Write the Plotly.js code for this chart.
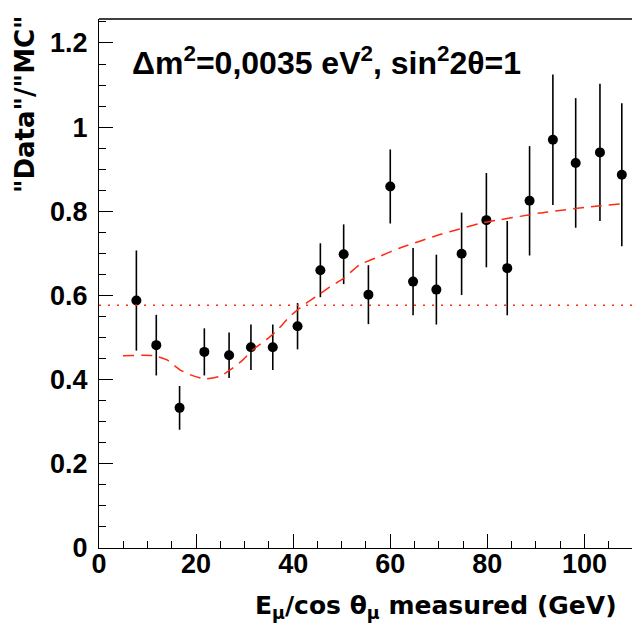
<!DOCTYPE html>
<html>
<head>
<meta charset="utf-8">
<script src="https://cdn.plot.ly/plotly-3.0.1.min.js"></script>
<style>html,body{margin:0;padding:0;background:#fff;}#chart{width:632px;height:627px;}</style>
</head>
<body>
<div id="chart"></div>
<script>
// Measured points: "Data"/"MC" ratio
const energy = [7.7, 11.8, 16.6, 21.7, 26.8, 31.3, 35.8, 40.9, 45.6, 50.4, 55.5, 60.0, 64.7, 69.5, 74.7, 79.8, 84.1, 88.7, 93.5, 98.2, 103.2, 107.7];
const ratio  = [0.588, 0.482, 0.333, 0.466, 0.458, 0.477, 0.477, 0.527, 0.660, 0.698, 0.602, 0.859, 0.633, 0.614, 0.699, 0.779, 0.665, 0.825, 0.970, 0.915, 0.940, 0.887];
const ratioErr = [0.119, 0.072, 0.052, 0.056, 0.054, 0.054, 0.054, 0.055, 0.064, 0.071, 0.070, 0.088, 0.080, 0.083, 0.098, 0.112, 0.112, 0.130, 0.155, 0.154, 0.163, 0.170];

// Oscillation expectation (dashed curve)
const oscX = [4.95, 11.1, 13.9, 16.6, 18.7, 21.8, 24.9, 27.6, 29.7, 31.7, 34.5, 36.5, 39.3, 42.0, 44.8, 47.5, 50.3, 53.7, 57.8, 62.0, 66.1, 70.2, 74.3, 78.4, 82.6, 86.7, 90.8, 94.9, 99.0, 103.2, 107.7];
const oscY = [0.457, 0.457, 0.4475, 0.424, 0.412, 0.402, 0.408, 0.428, 0.4475, 0.471, 0.495, 0.515, 0.550, 0.576, 0.598, 0.620, 0.640, 0.673, 0.693, 0.713, 0.729, 0.745, 0.758, 0.771, 0.780, 0.788, 0.796, 0.802, 0.808, 0.813, 0.818];

// Flat average (dotted line)
const flatX = [0, 110];
const flatY = [0.577, 0.577];

const xTickVals = [0, 20, 40, 60, 80, 100];
const yTickVals = [0, 0.2, 0.4, 0.6, 0.8, 1.0, 1.2];
const yTickText = ["0", "0.2", "0.4", "0.6", "0.8", "1", "1.2"];

const FONT = "Liberation Sans, Arial, Helvetica, sans-serif";
const WIDE = "DejaVu Sans, Liberation Sans, sans-serif";
const RED = "#ff2a10";

const traces = [
  {
    x: energy, y: ratio, type: "scatter", mode: "markers",
    marker: {color: "black", size: 10},
    error_y: {type: "data", array: ratioErr, visible: true, color: "black", thickness: 1.6, width: 0},
    hoverinfo: "x+y"
  },
  {
    x: flatX, y: flatY, type: "scatter", mode: "lines",
    line: {color: RED, width: 1.5, dash: "2px,7px"}
  },
  {
    x: oscX, y: oscY, type: "scatter", mode: "lines",
    line: {color: RED, width: 1.5, dash: "11px,7px", shape: "spline", smoothing: 0.6}
  }
];

const layout = {
  width: 632, height: 627,
  margin: {l: 99, r: 0, t: 19, b: 79},
  paper_bgcolor: "white", plot_bgcolor: "white",
  showlegend: false,
  font: {family: FONT, color: "black"},
  xaxis: {
    range: [0, 109.8], showgrid: false, zeroline: false,
    showline: true, linecolor: "black", linewidth: 1,
    ticks: "inside", ticklen: 14, tickwidth: 1, tickcolor: "black",
    tickvals: xTickVals, ticktext: xTickVals.map(String),
    tickfont: {family: FONT, size: 27, weight: "bold"},
    ticklabelstandoff: -8,
    minor: {dtick: 5, ticks: "inside", ticklen: 7, tickwidth: 1, tickcolor: "black", showgrid: false}
  },
  yaxis: {
    range: [0, 1.257], showgrid: false, zeroline: false,
    showline: true, linecolor: "black", linewidth: 1,
    ticks: "inside", ticklen: 14, tickwidth: 1, tickcolor: "black",
    tickvals: yTickVals, ticktext: yTickText,
    tickfont: {family: FONT, size: 27, weight: "bold"},
    ticklabelstandoff: 5,
    minor: {dtick: 0.05, ticks: "inside", ticklen: 7, tickwidth: 1, tickcolor: "black", showgrid: false}
  },
  shapes: [
    {type: "line", xref: "paper", yref: "paper", x0: 0, x1: 1, y0: 1, y1: 1, line: {color: "black", width: 1.5}}
  ],
  annotations: [
    {
      text: "Δm<sup>2</sup>=0,0035 eV<sup>2</sup>, sin<sup>2</sup>2θ=1",
      xref: "paper", yref: "paper", x: 0.058, y: 0.963, xanchor: "left", yanchor: "top",
      showarrow: false, font: {family: FONT, size: 32, weight: "bold", color: "black"}
    },
    {
      text: "E<sub>μ</sub>/cos θ<sub>μ</sub> measured (GeV)",
      xref: "paper", yref: "paper", x: 0.975, y: -0.078, xanchor: "right", yanchor: "top",
      showarrow: false, font: {family: WIDE, size: 25, weight: "bold", color: "black"}
    },
    {
      text: "\"Data\"/\"MC\"",
      xref: "paper", yref: "paper", x: -0.139, y: 1.011, xanchor: "center", yanchor: "top",
      textangle: -90,
      showarrow: false, font: {family: WIDE, size: 26, weight: "bold", color: "black"}
    }
  ]
};

Plotly.newPlot("chart", traces, layout, {displayModeBar: false, staticPlot: true});
</script>
</body>
</html>
